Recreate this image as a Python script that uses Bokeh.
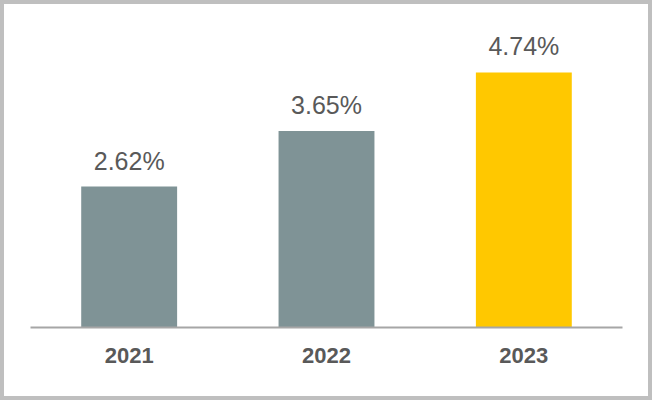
from bokeh.plotting import figure
from bokeh.models import ColumnDataSource, FactorRange, Range1d
from bokeh.core.properties import value
from bokeh.embed import file_html
from bokeh.resources import INLINE

years = ["2021", "2022", "2023"]
rates = [2.62, 3.65, 4.74]
labels = ["2.62%", "3.65%", "4.74%"]
colors = ["#7F9396", "#7F9396", "#FFC800"]

src = ColumnDataSource(dict(x=years, top=rates, label=labels, color=colors))

p = figure(x_range=FactorRange(*years), y_range=Range1d(0, 5.576),
           width=652, height=400, output_backend="svg", toolbar_location=None,
           min_border_left=26, min_border_right=34, min_border_top=23, min_border_bottom=77)

p.vbar(x="x", top="top", width=0.486, color="color", line_color=None, source=src)
p.text(x="x", y="top", text="label", text_align="center", text_baseline="alphabetic",
       y_offset=-26, text_font_size="25px", text_color="#595959",
       text_font=value("Liberation Sans"), source=src)

p.yaxis.visible = False
p.xaxis.axis_line_color = "#A6A6A6"
p.xaxis.axis_line_width = 2
p.xaxis.major_tick_line_color = None
p.xaxis.minor_tick_line_color = None
p.xaxis.major_label_text_font_size = "22px"
p.xaxis.major_label_text_font_style = "bold"
p.xaxis.major_label_text_color = "#595959"
p.xaxis.major_label_text_font = "Liberation Sans"
p.xaxis.major_label_standoff = 14
p.xgrid.grid_line_color = None
p.ygrid.grid_line_color = None
p.outline_line_color = None
p.background_fill_color = "white"
p.border_fill_color = "white"
p.styles = {"border": "4px solid #BFBFBF"}

open("out.html", "w").write(file_html(p, INLINE))
